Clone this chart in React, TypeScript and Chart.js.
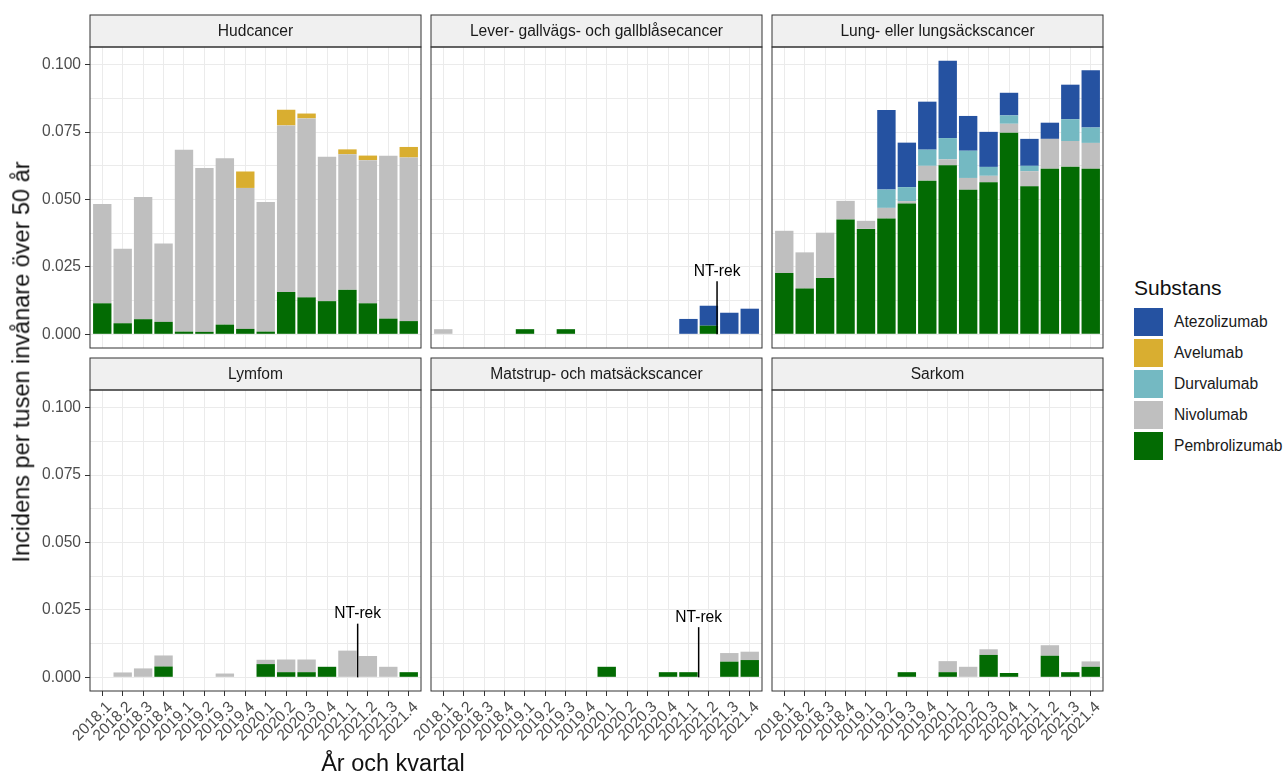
import React, { useEffect, useRef } from 'react';
import { Chart, registerables } from 'chart.js';

Chart.register(...registerables);

const FONT = '"Liberation Sans", Arial, Helvetica, sans-serif';
Chart.defaults.font.family = FONT;

// ---------- data ----------
const quarters = [
  '2018.1', '2018.2', '2018.3', '2018.4',
  '2019.1', '2019.2', '2019.3', '2019.4',
  '2020.1', '2020.2', '2020.3', '2020.4',
  '2021.1', '2021.2', '2021.3', '2021.4',
];

const substances = ['Atezolizumab', 'Avelumab', 'Durvalumab', 'Nivolumab', 'Pembrolizumab'];
const substanceColors = ['#2552a1', '#d9ae30', '#74b9c2', '#bfbfbf', '#036b03'];

const panelTitles = [
  'Hudcancer',
  'Lever- gallvägs- och gallblåsecancer',
  'Lung- eller lungsäckscancer',
  'Lymfom',
  'Matstrup- och matsäckscancer',
  'Sarkom',
];

const zeros16 = [0, 0, 0, 0, 0, 0, 0, 0, 0, 0, 0, 0, 0, 0, 0, 0];

// Hudcancer
const hudAtezo = zeros16;
const hudAvel = [0, 0, 0, 0, 0, 0, 0, 0.0061, 0, 0.0058, 0.0018, 0, 0.0018, 0.0017, 0, 0.0039];
const hudDurva = zeros16;
const hudNivo = [0.0368, 0.0276, 0.0453, 0.0291, 0.0675, 0.0608, 0.0617, 0.0523, 0.0481, 0.0618, 0.0664, 0.0536, 0.0503, 0.0531, 0.0604, 0.0607];
const hudPembro = [0.0115, 0.0041, 0.0056, 0.0046, 0.0010, 0.0009, 0.0036, 0.0020, 0.0010, 0.0157, 0.0137, 0.0123, 0.0165, 0.0115, 0.0058, 0.0049];

// Lever- gallvägs- och gallblåsecancer
const leverAtezo = [0, 0, 0, 0, 0, 0, 0, 0, 0, 0, 0, 0, 0.0057, 0.0074, 0.0080, 0.0095];
const leverAvel = zeros16;
const leverDurva = zeros16;
const leverNivo = [0.0019, 0, 0, 0, 0, 0, 0, 0, 0, 0, 0, 0, 0, 0, 0, 0];
const leverPembro = [0, 0, 0, 0, 0.0019, 0, 0.0019, 0, 0, 0, 0, 0, 0, 0.0032, 0, 0];

// Lung- eller lungsäckscancer
const lungAtezo = [0, 0, 0, 0, 0, 0.0295, 0.0165, 0.0178, 0.0287, 0.0129, 0.0130, 0.0084, 0.0100, 0.0060, 0.0128, 0.0213];
const lungAvel = zeros16;
const lungDurva = [0, 0, 0, 0, 0, 0.0068, 0.0052, 0.0060, 0.0079, 0.0101, 0.0033, 0.0031, 0.0020, 0, 0.0081, 0.0057];
const lungNivo = [0.0157, 0.0134, 0.0168, 0.0069, 0.0030, 0.0039, 0.0009, 0.0055, 0.0022, 0.0044, 0.0024, 0.0033, 0.0056, 0.0111, 0.0095, 0.0096];
const lungPembro = [0.0227, 0.0170, 0.0209, 0.0426, 0.0391, 0.0430, 0.0485, 0.0570, 0.0627, 0.0536, 0.0564, 0.0748, 0.0549, 0.0614, 0.0622, 0.0614];

// Lymfom
const lymfomAtezo = zeros16;
const lymfomAvel = zeros16;
const lymfomDurva = zeros16;
const lymfomNivo = [0, 0.0018, 0.0033, 0.0041, 0, 0, 0.0014, 0, 0.0016, 0.0047, 0.0047, 0, 0.0099, 0.0079, 0.0039, 0];
const lymfomPembro = [0, 0, 0, 0.0040, 0, 0, 0, 0, 0.0049, 0.0019, 0.0019, 0.0039, 0, 0, 0, 0.0019];

// Matstrup- och matsäckscancer
const matAtezo = zeros16;
const matAvel = zeros16;
const matDurva = zeros16;
const matNivo = [0, 0, 0, 0, 0, 0, 0, 0, 0, 0, 0, 0, 0, 0, 0.0032, 0.0031];
const matPembro = [0, 0, 0, 0, 0, 0, 0, 0, 0.0039, 0, 0, 0.0019, 0.0019, 0, 0.0058, 0.0064];

// Sarkom
const sarkomAtezo = zeros16;
const sarkomAvel = zeros16;
const sarkomDurva = zeros16;
const sarkomNivo = [0, 0, 0, 0, 0, 0, 0, 0, 0.0041, 0.0039, 0.0021, 0, 0, 0.0039, 0, 0.0020];
const sarkomPembro = [0, 0, 0, 0, 0, 0, 0.0019, 0, 0.0019, 0, 0.0083, 0.0016, 0, 0.0080, 0.0019, 0.0039];

// order matches `substances`
const panelSeries = [
  [hudAtezo, hudAvel, hudDurva, hudNivo, hudPembro],
  [leverAtezo, leverAvel, leverDurva, leverNivo, leverPembro],
  [lungAtezo, lungAvel, lungDurva, lungNivo, lungPembro],
  [lymfomAtezo, lymfomAvel, lymfomDurva, lymfomNivo, lymfomPembro],
  [matAtezo, matAvel, matDurva, matNivo, matPembro],
  [sarkomAtezo, sarkomAvel, sarkomDurva, sarkomNivo, sarkomPembro],
];

// y axis
const yMin = -0.00508;
const yMax = 0.10658;
const yStep = 0.0125;
const yMajorStep = 0.025;

// NT-rek annotations
const ntRekLabel = 'NT-rek';
const ntRekPanel = [1, 3, 4];
const ntRekX = [13.4, 12.5, 12.5];
const ntRekTop = [0.0197, 0.0199, 0.0186];

const yTitle = 'Incidens per tusen invånare över 50 år';
const xTitle = 'År och kvartal';
const legendTitle = 'Substans';

// ---------- layout ----------
const colLeft = [90, 431, 772];
const panelW = 331;
const stripTop = [15, 358];
const stripH = 32;
const plotH = 301;
const LM = 70;
const RM = 3;
const TP = 2;

const TICK_COLOR = '#4d4d4d';
const GRID_COLOR = '#ebebeb';
const BORDER_COLOR = '#333333';
const TXT = 15.6;

const isMajor = (v: number) => Math.abs(v / yMajorStep - Math.round(v / yMajorStep)) < 1e-6;

const facetPlugin = {
  id: 'facetDecor',
  afterDraw(chart: any, _args: any, opts: any) {
    const { ctx, chartArea } = chart;
    const { left, right, top, bottom } = chartArea;
    ctx.save();
    // strip
    ctx.fillStyle = '#f0f0f0';
    ctx.fillRect(left, top - stripH, right - left, stripH);
    ctx.strokeStyle = BORDER_COLOR;
    ctx.lineWidth = 1;
    ctx.strokeRect(left, top - stripH, right - left, stripH);
    // panel border
    ctx.strokeRect(left, top, right - left, bottom - top);
    // strip title
    ctx.fillStyle = '#1a1a1a';
    ctx.font = `${TXT}px ${FONT}`;
    ctx.textAlign = 'center';
    ctx.textBaseline = 'middle';
    ctx.fillText(opts.title, (left + right) / 2, top - stripH / 2 + 1);
    // annotations
    (opts.notes || []).forEach((n: any) => {
      const xs = chart.scales.x;
      const ys = chart.scales.y;
      const px = xs.getPixelForValue(n.x);
      const y0 = ys.getPixelForValue(0);
      const y1 = ys.getPixelForValue(n.top);
      ctx.strokeStyle = '#000';
      ctx.lineWidth = 1.5;
      ctx.beginPath();
      ctx.moveTo(px, y0);
      ctx.lineTo(px, y1);
      ctx.stroke();
      ctx.fillStyle = '#000';
      ctx.textAlign = 'center';
      ctx.textBaseline = 'bottom';
      ctx.fillText(n.label, px, y1 - 2);
    });
    ctx.restore();
  },
};

function Panel({ index }: { index: number }) {
  const ref = useRef<HTMLCanvasElement | null>(null);
  const row = Math.floor(index / 3);
  const col = index % 3;
  const isLeft = col === 0;
  const isBottom = row === 1;
  const BM = isBottom ? 64 : 2;
  const width = LM + panelW + RM;
  const height = TP + stripH + plotH + BM;

  useEffect(() => {
    if (!ref.current) return;
    const series = panelSeries[index];
    const datasets = substances
      .map((name, s) => ({
        label: name,
        data: series[s].map((v, i) => ({ x: i, y: v ? v : null })),
        backgroundColor: substanceColors[s],
        borderWidth: 0,
        barPercentage: 0.9,
        categoryPercentage: 1,
        stack: 'all',
      }))
      .reverse();

    const notes = ntRekPanel
      .map((p, k) => (p === index ? { x: ntRekX[k], top: ntRekTop[k], label: ntRekLabel } : null))
      .filter(Boolean);

    const chart = new Chart(ref.current, {
      type: 'bar',
      data: { datasets: datasets as any },
      plugins: [facetPlugin],
      options: {
        animation: false,
        responsive: true,
        maintainAspectRatio: false,
        events: [],
        layout: { padding: { top: TP + stripH, right: RM, left: 0, bottom: 0 } },
        plugins: {
          legend: { display: false },
          tooltip: { enabled: false },
          title: { display: false },
          facetDecor: { title: panelTitles[index], notes },
        } as any,
        scales: {
          x: {
            type: 'linear',
            stacked: true,
            min: -0.6,
            max: 15.6,
            offset: false,
            border: { display: false },
            grid: {
              offset: false,
              color: GRID_COLOR,
              lineWidth: 1,
              drawTicks: isBottom,
              tickLength: 5,
              tickColor: BORDER_COLOR,
              tickWidth: 1,
            },
            ticks: {
              display: isBottom,
              stepSize: 1,
              includeBounds: false,
              autoSkip: false,
              minRotation: 45,
              maxRotation: 45,
              padding: 2,
              labelOffset: 7,
              color: TICK_COLOR,
              font: { size: TXT, family: FONT },
              callback: (v: any) => (Number.isInteger(v) && quarters[v] ? quarters[v] : ''),
            },
            afterFit: (s: any) => {
              s.height = BM;
              s.paddingLeft = 0;
              s.paddingRight = 0;
            },
          } as any,
          y: {
            type: 'linear',
            stacked: true,
            min: yMin,
            max: yMax,
            border: { display: false },
            grid: {
              color: GRID_COLOR,
              lineWidth: 1,
              drawTicks: isLeft,
              tickLength: 5,
              tickWidth: 1,
              tickColor: (c: any) => (c.tick && isMajor(c.tick.value) ? BORDER_COLOR : 'rgba(0,0,0,0)'),
            },
            ticks: {
              display: isLeft,
              stepSize: yStep,
              includeBounds: false,
              autoSkip: false,
              padding: 4,
              color: TICK_COLOR,
              font: { size: TXT, family: FONT },
              callback: (v: any) => (isMajor(v) ? Number(v).toFixed(3) : ''),
            },
            afterFit: (s: any) => {
              s.width = LM;
              s.paddingTop = 0;
              s.paddingBottom = 0;
            },
          } as any,
        },
      },
    });
    return () => chart.destroy();
  }, [index]);

  return (
    <div
      style={{
        position: 'absolute',
        left: colLeft[col] - LM,
        top: stripTop[row] - TP,
        width,
        height,
      }}
    >
      <canvas ref={ref} style={{ display: 'block' }} />
    </div>
  );
}

export default function App() {
  return (
    <div
      style={{
        position: 'absolute',
        left: 0,
        top: 0,
        width: 1286,
        height: 776,
        background: '#fff',
        fontFamily: FONT,
        overflow: 'hidden',
      }}
    >
      {panelTitles.map((_, i) => (
        <Panel key={i} index={i} />
      ))}

      {/* y axis title */}
      <div
        style={{
          position: 'absolute',
          left: 22,
          top: 362,
          transform: 'translate(-50%, -50%) rotate(-90deg)',
          fontSize: 23.5,
          lineHeight: '23.5px',
          whiteSpace: 'nowrap',
          color: '#111',
        }}
      >
        {yTitle}
      </div>

      {/* x axis title */}
      <div
        style={{
          position: 'absolute',
          left: 393,
          top: 752,
          transform: 'translateX(-50%)',
          fontSize: 23.5,
          lineHeight: '23.5px',
          whiteSpace: 'nowrap',
          color: '#111',
        }}
      >
        {xTitle}
      </div>

      {/* legend */}
      <div
        style={{
          position: 'absolute',
          left: 1134,
          top: 277,
          fontSize: 21,
          lineHeight: '21px',
          color: '#111',
          whiteSpace: 'nowrap',
        }}
      >
        {legendTitle}
      </div>
      {substances.map((name, i) => (
        <div
          key={name}
          style={{
            position: 'absolute',
            left: 1134,
            top: 308 + i * 31.1,
            height: 28,
            display: 'flex',
            alignItems: 'center',
            whiteSpace: 'nowrap',
          }}
        >
          <div style={{ width: 28.5, height: 28, background: substanceColors[i] }} />
          <span style={{ marginLeft: 11.5, fontSize: TXT, color: '#1a1a1a' }}>{name}</span>
        </div>
      ))}
    </div>
  );
}
